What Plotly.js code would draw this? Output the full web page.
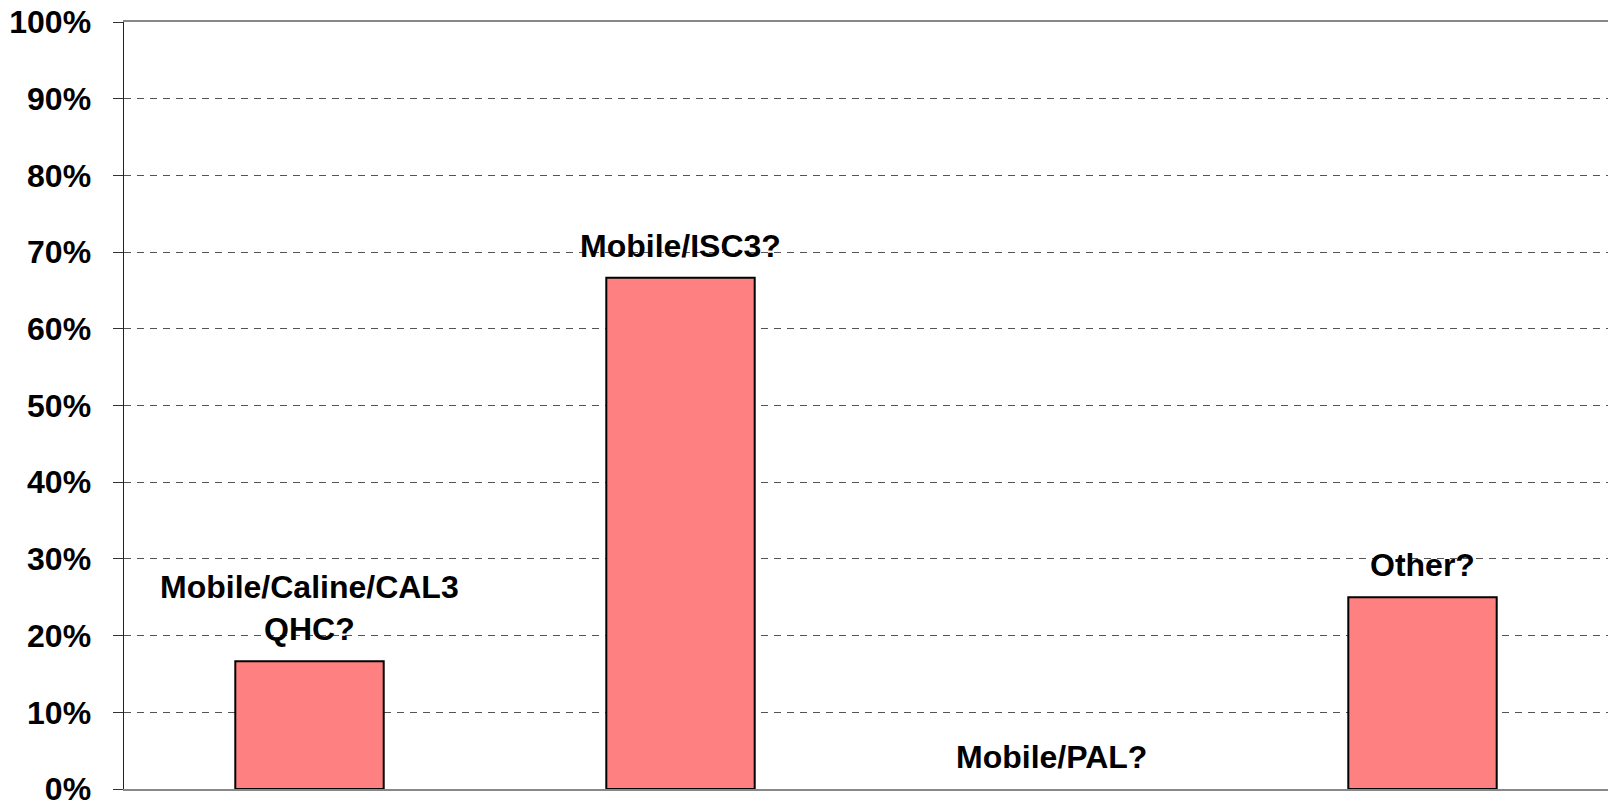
<!DOCTYPE html>
<html>
<head>
<meta charset="utf-8">
<script src="https://cdn.plot.ly/plotly-3.0.1.min.js"></script>
<style>html,body{margin:0;padding:0;background:#fff;}#chart{width:1608px;height:806px;}</style>
</head>
<body>
<div id="chart"></div>
<script>
const categories = ['Mobile/Caline/CAL3 QHC?', 'Mobile/ISC3?', 'Mobile/PAL?', 'Other?'];
const labels = ['Mobile/Caline/CAL3<br>QHC?', 'Mobile/ISC3?', 'Mobile/PAL?', 'Other?'];
const values = [16.67, 66.67, 0, 25];
const yTickVals = [0, 10, 20, 30, 40, 50, 60, 70, 80, 90, 100];
const yTickText = ['0%', '10%', '20%', '30%', '40%', '50%', '60%', '70%', '80%', '90%', '100%'];

const font = {family: 'Liberation Sans, Arial, sans-serif', size: 32, color: '#000', weight: 700};

const trace = {
  type: 'bar',
  x: categories,
  y: values,
  marker: {color: '#FF8080', line: {color: '#000', width: values.map(v => v > 0 ? 2 : 0)}},
  width: 0.4,
  hoverinfo: 'skip'
};

const annotations = categories.map((c, i) => ({
  x: c, y: values[i], xref: 'x', yref: 'y',
  text: labels[i], showarrow: false, yanchor: 'bottom', yshift: 12,
  font: font
}));

const layout = {
  width: 1608, height: 806,
  margin: {l: 124, r: 0, t: 22, b: 17, pad: 0},
  paper_bgcolor: '#fff', plot_bgcolor: '#fff',
  showlegend: false,
  bargap: 0.6,
  xaxis: {
    type: 'category', showticklabels: false, ticks: '',
    showgrid: false, zeroline: false,
    showline: true, linecolor: '#888', linewidth: 2, mirror: true,
    range: [-0.5, 3.5]
  },
  yaxis: {
    range: [0, 100], tickvals: yTickVals, ticktext: yTickText,
    ticks: 'outside', ticklen: 10, tickcolor: '#333', tickwidth: 1,
    ticklabelstandoff: 15, ticklabeloverflow: 'allow',
    showline: true, linecolor: '#222', linewidth: 1.5,
    showgrid: true, gridcolor: '#555', gridwidth: 1, griddash: '7px,6px',
    zeroline: false,
    tickfont: font
  },
  annotations: annotations
};

Plotly.newPlot('chart', [trace], layout, {displayModeBar: false, staticPlot: true});
</script>
</body>
</html>
